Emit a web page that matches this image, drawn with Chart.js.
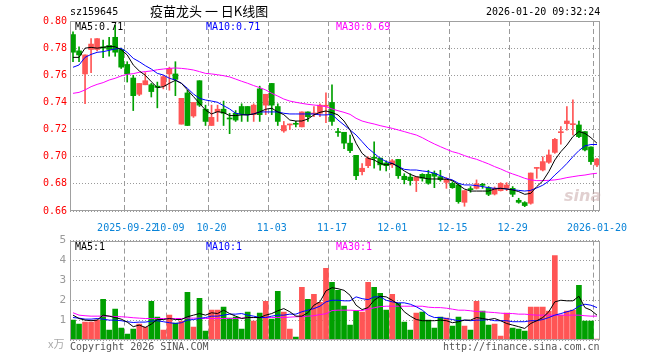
<!DOCTYPE html>
<html>
<head>
<meta charset="utf-8">
<script src="https://cdn.jsdelivr.net/npm/chart.js@4.4.1/dist/chart.umd.min.js"></script>
<style>
	body { margin: 0; background: #fff; width: 660px; height: 360px; position: relative; overflow: hidden; }
	canvas { position: absolute; left: 0; }
	.t { position: absolute; white-space: nowrap; font: 10px "DejaVu Sans Mono", monospace; line-height: 12px; }
</style>
</head>
<body>
<canvas id="kline" width="660" height="236" style="top:0"></canvas>
<canvas id="vol" width="660" height="130" style="top:230px"></canvas>

<div class="t" style="left:70px;top:6px;color:#000">sz159645</div>
<div class="t" style="left:150px;top:3px;font:13px 'Noto Sans CJK SC';line-height:16px;color:#000">疫苗龙头 一 日K线图</div>
<div class="t" style="left:486px;top:6px;color:#000">2026-01-20 09:32:24</div>
<div class="t" style="left:75px;top:21px;color:#000">MA5:0.71</div>
<div class="t" style="left:206px;top:21px;color:#0000ff">MA10:0.71</div>
<div class="t" style="left:336px;top:21px;color:#ff00ff">MA30:0.69</div>
<div class="t" style="left:75px;top:241px;color:#000">MA5:1</div>
<div class="t" style="left:206px;top:241px;color:#0000ff">MA10:1</div>
<div class="t" style="left:336px;top:241px;color:#ff00ff">MA30:1</div>
<div class="t" style="left:48px;top:336px;font:11px 'Noto Sans CJK SC';line-height:14px;color:#aaa">x万</div>
<div class="t" style="left:70px;top:341px;color:#555">Copyright 2026 SINA.COM</div>
<div class="t" style="left:443px;top:341px;color:#555">http://finance.sina.com.cn</div>
<div class="t" style="left:564px;top:186px;font:italic bold 16px 'DejaVu Sans';line-height:20px;color:rgba(200,170,170,0.55)">sina</div>

<script>
// Trading days shown
var dates = [
	'2025-09-09','2025-09-10','2025-09-11','2025-09-12','2025-09-15','2025-09-16','2025-09-17','2025-09-18','2025-09-19',
	'2025-09-22','2025-09-23','2025-09-24','2025-09-25','2025-09-26','2025-09-29','2025-09-30',
	'2025-10-09','2025-10-10','2025-10-13','2025-10-14','2025-10-15','2025-10-16','2025-10-17',
	'2025-10-20','2025-10-21','2025-10-22','2025-10-23','2025-10-24','2025-10-27','2025-10-28','2025-10-29','2025-10-30','2025-10-31',
	'2025-11-03','2025-11-04','2025-11-05','2025-11-06','2025-11-07','2025-11-10','2025-11-11','2025-11-12','2025-11-13','2025-11-14',
	'2025-11-17','2025-11-18','2025-11-19','2025-11-20','2025-11-21','2025-11-24','2025-11-25','2025-11-26','2025-11-27','2025-11-28',
	'2025-12-01','2025-12-02','2025-12-03','2025-12-04','2025-12-05','2025-12-08','2025-12-09','2025-12-10','2025-12-11','2025-12-12',
	'2025-12-15','2025-12-16','2025-12-17','2025-12-18','2025-12-19','2025-12-22','2025-12-23','2025-12-24','2025-12-25','2025-12-26',
	'2025-12-29','2025-12-30','2025-12-31','2026-01-05','2026-01-06','2026-01-07','2026-01-08','2026-01-09',
	'2026-01-12','2026-01-13','2026-01-14','2026-01-15','2026-01-16','2026-01-19','2026-01-20'
];
var tickDates = ['2025-09-22','2025-10-09','2025-10-20','2025-11-03','2025-11-17','2025-12-01','2025-12-15','2025-12-29','2026-01-20'];
var tickLabels = ['2025-09-22','10-09','10-20','11-03','11-17','12-01','12-15','12-29','2026-01-20'];

var opens = [
	0.790,0.778,0.761,0.779,0.779,0.781,0.782,0.788,0.779,0.768,
	0.758,0.746,0.753,0.753,0.752,0.752,0.761,0.761,0.724,0.747,
	0.730,0.756,0.735,0.723,0.733,0.735,0.7283,0.732,0.737,0.737,
	0.731,0.750,0.738,0.754,0.737,0.719,0.7234,0.7244,0.722,0.733,
	0.7315,0.732,0.7372,0.740,0.7185,0.718,0.710,0.701,0.689,0.6934,
	0.6996,0.699,0.6954,0.694,0.698,0.6856,0.685,0.6824,0.687,0.687,
	0.6878,0.6853,0.6811,0.6804,0.6792,0.6664,0.6765,0.6767,0.6794,0.6772,
	0.6725,0.675,0.6767,0.6767,0.6679,0.6662,0.6657,0.6914,0.6902,0.6959,
	0.7032,0.7177,0.7244,0.7236,0.7234,0.7185,0.7072,0.6939
];
var closes = [
	0.777,0.775,0.775,0.783,0.787,0.780,0.779,0.777,0.766,0.761,
	0.745,0.754,0.756,0.748,0.751,0.759,0.765,0.757,0.743,0.723,
	0.740,0.738,0.726,0.729,0.735,0.732,0.7278,0.727,0.7315,0.731,
	0.738,0.731,0.746,0.738,0.726,0.723,0.7241,0.7239,0.733,0.7295,
	0.732,0.738,0.7376,0.726,0.7178,0.710,0.7045,0.686,0.6915,0.699,
	0.6988,0.694,0.6934,0.697,0.686,0.6831,0.6824,0.6851,0.6841,0.6804,
	0.6856,0.6831,0.6836,0.6772,0.6669,0.675,0.6757,0.680,0.6789,0.6723,
	0.6767,0.6804,0.6792,0.6723,0.6664,0.664,0.688,0.6919,0.6964,0.7013,
	0.7128,0.718,0.7263,0.7239,0.7148,0.705,0.6964,0.6983
];
var highs = [
	0.792,0.781,0.775,0.787,0.787,0.786,0.788,0.797,0.780,0.770,
	0.760,0.754,0.762,0.754,0.755,0.760,0.766,0.770,0.743,0.749,
	0.740,0.756,0.738,0.738,0.738,0.741,0.732,0.734,0.739,0.737,
	0.739,0.752,0.746,0.754,0.739,0.726,0.7241,0.726,0.733,0.733,
	0.737,0.739,0.747,0.753,0.721,0.718,0.716,0.701,0.695,0.700,
	0.711,0.699,0.697,0.698,0.698,0.6875,0.6875,0.6851,0.6875,0.690,
	0.6895,0.690,0.6846,0.6816,0.6804,0.675,0.678,0.6829,0.6804,0.678,
	0.6777,0.6809,0.6809,0.678,0.6694,0.6669,0.688,0.6919,0.700,0.705,
	0.7135,0.7222,0.737,0.742,0.7263,0.7185,0.7072,0.6988
];
var lows = [
	0.770,0.770,0.739,0.762,0.778,0.773,0.774,0.774,0.765,0.755,
	0.734,0.745,0.753,0.744,0.736,0.750,0.749,0.745,0.724,0.723,
	0.729,0.737,0.723,0.723,0.726,0.723,0.717,0.726,0.726,0.726,
	0.726,0.726,0.731,0.731,0.723,0.718,0.720,0.722,0.722,0.726,
	0.7295,0.7295,0.725,0.723,0.715,0.706,0.703,0.683,0.6866,0.692,
	0.6915,0.690,0.6895,0.692,0.684,0.680,0.679,0.6743,0.682,0.6797,
	0.6772,0.682,0.6767,0.6767,0.6657,0.6635,0.6738,0.6762,0.6767,0.6713,
	0.6718,0.6747,0.675,0.6706,0.6657,0.6632,0.665,0.6841,0.6895,0.6951,
	0.7025,0.7092,0.7195,0.716,0.714,0.7042,0.6944,0.6927
];
var ma5 = [
	0.7732,0.7732,0.780,0.7806,0.780,0.7806,0.7813,0.781,0.7789,0.775,
	0.7676,0.7632,0.760,0.7553,0.7509,0.7516,0.7541,0.7563,0.7541,0.7492,
	0.7443,0.7393,0.7344,0.7315,0.7332,0.7325,0.7303,0.7303,0.7308,0.7308,
	0.7315,0.733,0.735,0.7357,0.733,0.731,0.727,0.7263,0.7263,0.7278,
	0.7308,0.7327,0.7337,0.7325,0.7308,0.7263,0.7197,0.7099,0.7025,0.6988,
	0.6976,0.6951,0.6939,0.6951,0.6927,0.6895,0.687,0.6853,0.6846,0.6836,
	0.6836,0.6836,0.6834,0.6824,0.6792,0.6762,0.6747,0.6747,0.6747,0.6747,
	0.6762,0.6767,0.6762,0.6755,0.6743,0.6723,0.673,0.678,0.6821,0.689,
	0.6976,0.7037,0.7086,0.7148,0.7185,0.7172,0.714,0.7099
];
var ma10 = [
	0.7659,0.7676,0.7732,0.7754,0.7769,0.7774,0.7784,0.7794,0.7799,0.7769,
	0.7725,0.770,0.7671,0.7646,0.7614,0.7602,0.7578,0.7565,0.7541,0.7504,
	0.7462,0.743,0.7418,0.741,0.7401,0.7376,0.7352,0.732,0.7312,0.7308,
	0.7315,0.733,0.733,0.733,0.733,0.732,0.7315,0.7315,0.7315,0.7315,
	0.7315,0.7308,0.7308,0.7312,0.727,0.7234,0.7197,0.716,0.7111,0.7062,
	0.7025,0.6988,0.6964,0.6951,0.6927,0.6907,0.6902,0.6902,0.6895,0.689,
	0.6878,0.686,0.6841,0.6829,0.6804,0.6792,0.6792,0.6787,0.678,0.6772,
	0.6767,0.6767,0.6762,0.6757,0.6752,0.6747,0.6752,0.677,0.679,0.682,
	0.6865,0.6905,0.695,0.700,0.7045,0.708,0.709,0.709
];
var ma30 = [
	0.7467,0.7474,0.7492,0.7516,0.7533,0.7546,0.7565,0.7578,0.7595,0.7607,
	0.7612,0.7622,0.7627,0.7632,0.7641,0.7646,0.7651,0.7654,0.7651,0.7646,
	0.7639,0.7627,0.7614,0.761,0.7604,0.7597,0.7588,0.7572,0.7556,0.7541,
	0.7524,0.7509,0.7492,0.7467,0.7447,0.7425,0.741,0.7401,0.7393,0.7386,
	0.7381,0.7376,0.7369,0.7352,0.7339,0.7327,0.7312,0.7283,0.7263,0.7251,
	0.7241,0.7229,0.7219,0.7209,0.7197,0.7185,0.7172,0.716,0.714,0.7116,
	0.7094,0.7074,0.7055,0.7037,0.7025,0.7008,0.6993,0.6981,0.6964,0.6947,
	0.6927,0.691,0.689,0.6873,0.6858,0.6841,0.6829,0.6824,0.6824,0.6826,
	0.6829,0.6836,0.6846,0.6853,0.686,0.6865,0.6873,0.6878
];
// Volume in 万
var volumes = [
	1.0,0.8,0.9,0.9,1.0,2.05,0.5,1.55,0.6,0.3,
	0.55,0.8,0.65,1.95,1.15,0.5,1.25,0.85,0.95,2.4,
	0.65,2.1,0.45,1.5,1.5,1.65,1.1,1.15,0.55,1.4,
	0.95,1.35,1.95,1.05,2.45,1.4,0.55,0.15,2.65,2.05,
	2.3,1.9,3.6,2.9,2.5,1.7,0.75,1.45,1.4,2.9,
	2.65,2.35,1.5,2.3,1.85,0.9,0.5,1.35,1.4,1.0,
	0.6,1.15,1.1,0.7,1.15,0.7,0.5,1.95,1.45,0.75,
	0.8,0.2,1.35,0.6,0.55,0.45,1.65,1.65,1.65,1.45,
	4.25,1.25,1.45,1.5,2.75,0.95,0.95,0.05
];
var volMa5 = [
	1.25,1.08,1.0,0.97,1.0,1.25,1.2,1.13,1.05,0.9,
	0.67,0.75,0.63,0.8,1.03,1.03,1.08,1.03,1.03,1.17,
	1.25,1.33,1.25,1.37,1.33,1.5,1.33,1.2,1.08,1.13,
	1.13,1.13,1.25,1.33,1.47,1.58,1.42,1.2,1.2,1.37,
	1.75,1.92,2.47,2.63,2.58,2.5,2.25,1.75,1.53,1.63,
	2.0,2.2,2.17,2.0,1.8,1.42,1.2,1.03,0.97,0.97,
	0.97,1.0,0.97,0.87,0.92,1.0,1.0,1.13,1.08,1.03,
	1.08,0.97,0.83,0.75,0.67,0.58,0.83,0.97,1.13,1.42,
	1.92,2.0,1.97,1.97,2.2,1.63,1.5,1.25
];
var volMa10 = [
	1.13,1.1,1.05,1.05,1.08,1.05,1.0,1.0,0.97,0.92,
	0.88,0.9,0.9,0.95,0.97,0.92,0.87,0.83,0.87,1.0,
	1.03,1.08,1.13,1.2,1.2,1.25,1.3,1.3,1.33,1.25,
	1.2,1.13,1.13,1.2,1.25,1.25,1.3,1.3,1.42,1.5,
	1.58,1.7,1.92,2.0,2.0,1.97,1.97,2.17,2.08,2.03,
	2.17,2.17,2.0,1.92,1.87,1.87,1.8,1.67,1.5,1.25,
	1.13,1.13,1.08,1.03,0.97,1.0,0.97,1.0,1.0,1.03,
	0.97,0.97,0.97,0.92,0.92,0.92,0.97,0.97,1.03,1.13,
	1.25,1.33,1.42,1.5,1.7,1.8,1.75,1.63
];
var volMa30 = [
	1.37,1.25,1.22,1.2,1.2,1.2,1.2,1.18,1.17,1.15,
	1.12,1.1,1.08,1.08,1.08,1.08,1.08,1.08,1.08,1.1,
	1.1,1.1,1.08,1.08,1.08,1.08,1.08,1.08,1.1,1.12,
	1.13,1.13,1.13,1.13,1.13,1.13,1.15,1.17,1.17,1.2,
	1.22,1.28,1.32,1.48,1.5,1.5,1.5,1.48,1.48,1.55,
	1.62,1.68,1.7,1.7,1.7,1.7,1.7,1.7,1.7,1.65,
	1.63,1.63,1.6,1.55,1.5,1.5,1.47,1.43,1.42,1.4,
	1.38,1.35,1.33,1.33,1.3,1.3,1.27,1.25,1.25,1.25,
	1.25,1.25,1.25,1.25,1.25,1.22,1.2,1.2
];

var RED = '#ff5555', GREEN = '#00a000';
var MONO = '"DejaVu Sans Mono", monospace';
var candleColors = opens.map((o, i) => closes[i] >= opens[i] ? RED : GREEN);

// Grey frame round the plot area
var frame = {
	id: 'frame',
	afterDraw(chart) {
		let a = chart.chartArea, c = chart.ctx;
		c.save();
		c.strokeStyle = '#a0a0a0';
		c.lineWidth = 1;
		c.strokeRect(Math.round(a.left) + 0.5, Math.round(a.top) + 0.5, Math.round(a.right - a.left) - 1, Math.round(a.bottom - a.top) - 1);
		c.restore();
	}
};

// Only the labelled dates get a vertical dashed line (on the left edge of the day)
function dateGrid(ctx) {
	return tickDates.indexOf(dates[ctx.index]) >= 0 ? '#9a9a9a' : 'rgba(255,255,255,0)';
}

function maLine(data, color) {
	return {
		type: 'line',
		data: data,
		borderColor: color,
		borderWidth: 1,
		pointRadius: 0,
		tension: 0,
		fill: false,
		order: 0
	};
}

new Chart(document.getElementById('kline'), {
	data: {
		labels: dates,
		datasets: [
			{
				type: 'bar',
				data: lows.map((l, i) => [l, highs[i]]),
				backgroundColor: candleColors,
				barThickness: 1,
				grouped: false,
				order: 3
			},
			{
				type: 'bar',
				data: opens.map((o, i) => [o, closes[i]]),
				backgroundColor: candleColors,
				barThickness: 5,
				minBarLength: 1,
				grouped: false,
				order: 2
			},
			maLine(ma5, '#000000'),
			maLine(ma10, '#0000ff'),
			maLine(ma30, '#ff00ff')
		]
	},
	options: {
		responsive: false,
		animation: false,
		layout: { padding: { top: 21, right: 60, left: 0, bottom: 0 } },
		plugins: { legend: { display: false }, tooltip: { enabled: false } },
		scales: {
			x: {
				type: 'category',
				offset: true,
				grid: { offset: true, color: dateGrid, lineWidth: 1, drawTicks: false },
				border: { display: false, dash: [5, 3] },
				ticks: {
					autoSkip: false,
					maxRotation: 0,
					padding: 11,
					color: '#0a84d8',
					font: { family: MONO, size: 10 },
					callback: function(v, i) {
						let k = tickDates.indexOf(dates[i]);
						return k >= 0 ? tickLabels[k] : '';
					}
				},
				afterFit: function(s) { s.height = 25; }
			},
			y: {
				min: 0.66,
				max: 0.80,
				grid: { color: '#9a9a9a', drawTicks: false },
				border: { display: false, dash: [1, 2] },
				ticks: {
					stepSize: 0.02,
					padding: 3,
					color: '#ff0000',
					font: { family: MONO, size: 10 },
					callback: v => v.toFixed(2)
				},
				afterFit: function(s) { s.width = 70; }
			}
		}
	},
	plugins: [frame]
});

new Chart(document.getElementById('vol'), {
	data: {
		labels: dates,
		datasets: [
			{
				type: 'bar',
				data: volumes,
				backgroundColor: candleColors,
				barThickness: 5,
				order: 2
			},
			maLine(volMa5, '#000000'),
			maLine(volMa10, '#0000ff'),
			maLine(volMa30, '#ff00ff')
		]
	},
	options: {
		responsive: false,
		animation: false,
		layout: { padding: { top: 10, right: 60, left: 0, bottom: 0 } },
		plugins: { legend: { display: false }, tooltip: { enabled: false } },
		scales: {
			x: {
				type: 'category',
				offset: true,
				grid: { offset: true, color: dateGrid, lineWidth: 1, drawTicks: false },
				border: { display: false, dash: [5, 3] },
				ticks: { autoSkip: false, maxRotation: 0, callback: () => '' },
				afterFit: function(s) { s.height = 20; }
			},
			y: {
				min: 0,
				max: 5,
				grid: { color: '#9a9a9a', drawTicks: false },
				border: { display: false, dash: [1, 2] },
				ticks: {
					stepSize: 1,
					padding: 4,
					color: '#9a9a9a',
					font: { family: MONO, size: 11 },
					callback: v => v === 0 ? '' : String(v)
				},
				afterFit: function(s) { s.width = 70; }
			}
		}
	},
	plugins: [frame]
});
</script>
</body>
</html>
